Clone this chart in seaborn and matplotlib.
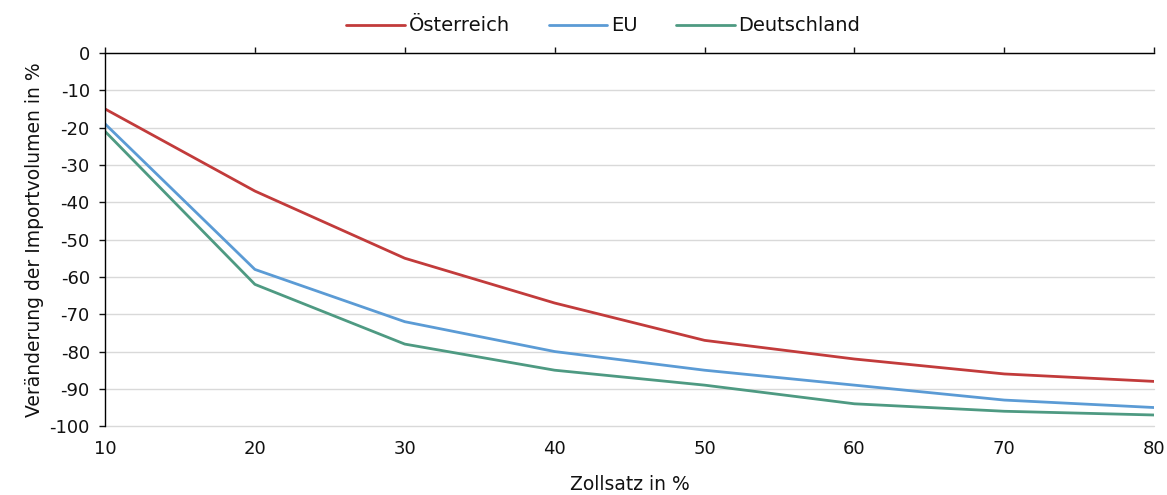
import matplotlib
matplotlib.use("Agg")
import matplotlib.pyplot as plt
import seaborn as sns
import pandas as pd

# Zollsatz (tariff rate, %) and change in import volume (%)
zollsatz = [10, 20, 30, 40, 50, 60, 70, 80]
oesterreich = [-15, -37, -55, -67, -77, -82, -86, -88]
eu = [-19, -58, -72, -80, -85, -89, -93, -95]
deutschland = [-21, -62, -78, -85, -89, -94, -96, -97]

series_names = ["Österreich", "EU", "Deutschland"]
colors = ["#C23B3B", "#5B9BD5", "#4E9A82"]

df = pd.DataFrame({
    "Zollsatz": zollsatz * 3,
    "Wert": oesterreich + eu + deutschland,
    "Region": [n for n in series_names for _ in zollsatz],
})

sns.set_theme(style="white")
plt.rcParams["font.family"] = ["DejaVu Sans"]
plt.rcParams["axes.unicode_minus"] = False
plt.rcParams["text.color"] = "#111111"
plt.rcParams["axes.labelcolor"] = "#111111"

fig = plt.figure(figsize=(11.67, 4.95), dpi=100)
ax = fig.add_axes([0.09, 0.139, 0.899, 0.754])

sns.lineplot(data=df, x="Zollsatz", y="Wert", hue="Region",
             hue_order=series_names, palette=colors, linewidth=2.0,
             ax=ax, legend=True)

ax.set_xlim(10, 80)
ax.set_ylim(-100, 0)
ax.set_xticks(zollsatz)
ax.set_yticks(range(-100, 1, 10))
ax.grid(axis="y", color="#D9D9D9", linewidth=1.0)
for gl in ax.get_ygridlines():
    gl.set_clip_on(False)
ax.set_axisbelow(True)

for side in ["right", "bottom"]:
    ax.spines[side].set_visible(False)
for side in ["left", "top"]:
    ax.spines[side].set_color("#000000")
    ax.spines[side].set_linewidth(1.0)

ax.tick_params(axis="x", bottom=False, top=True, labelbottom=True,
               labeltop=False, direction="out", length=4, width=1,
               labelsize=13, pad=6, colors="#111111")
ax.tick_params(axis="y", left=True, direction="out", length=4, width=1,
               labelsize=13, pad=7, colors="#111111")

ax.set_xlabel("Zollsatz in %", fontsize=13.5, labelpad=12)
ax.set_ylabel("Veränderung der Importvolumen in %", fontsize=13.5, labelpad=4)

handles, labels = ax.get_legend_handles_labels()
ax.legend(handles, labels, loc="upper center", bbox_to_anchor=(0.475, 1.145),
          ncol=3, frameon=False, fontsize=14, handlelength=3.0,
          handletextpad=0.2, columnspacing=2.0)

fig.savefig("out.png", dpi=100)
